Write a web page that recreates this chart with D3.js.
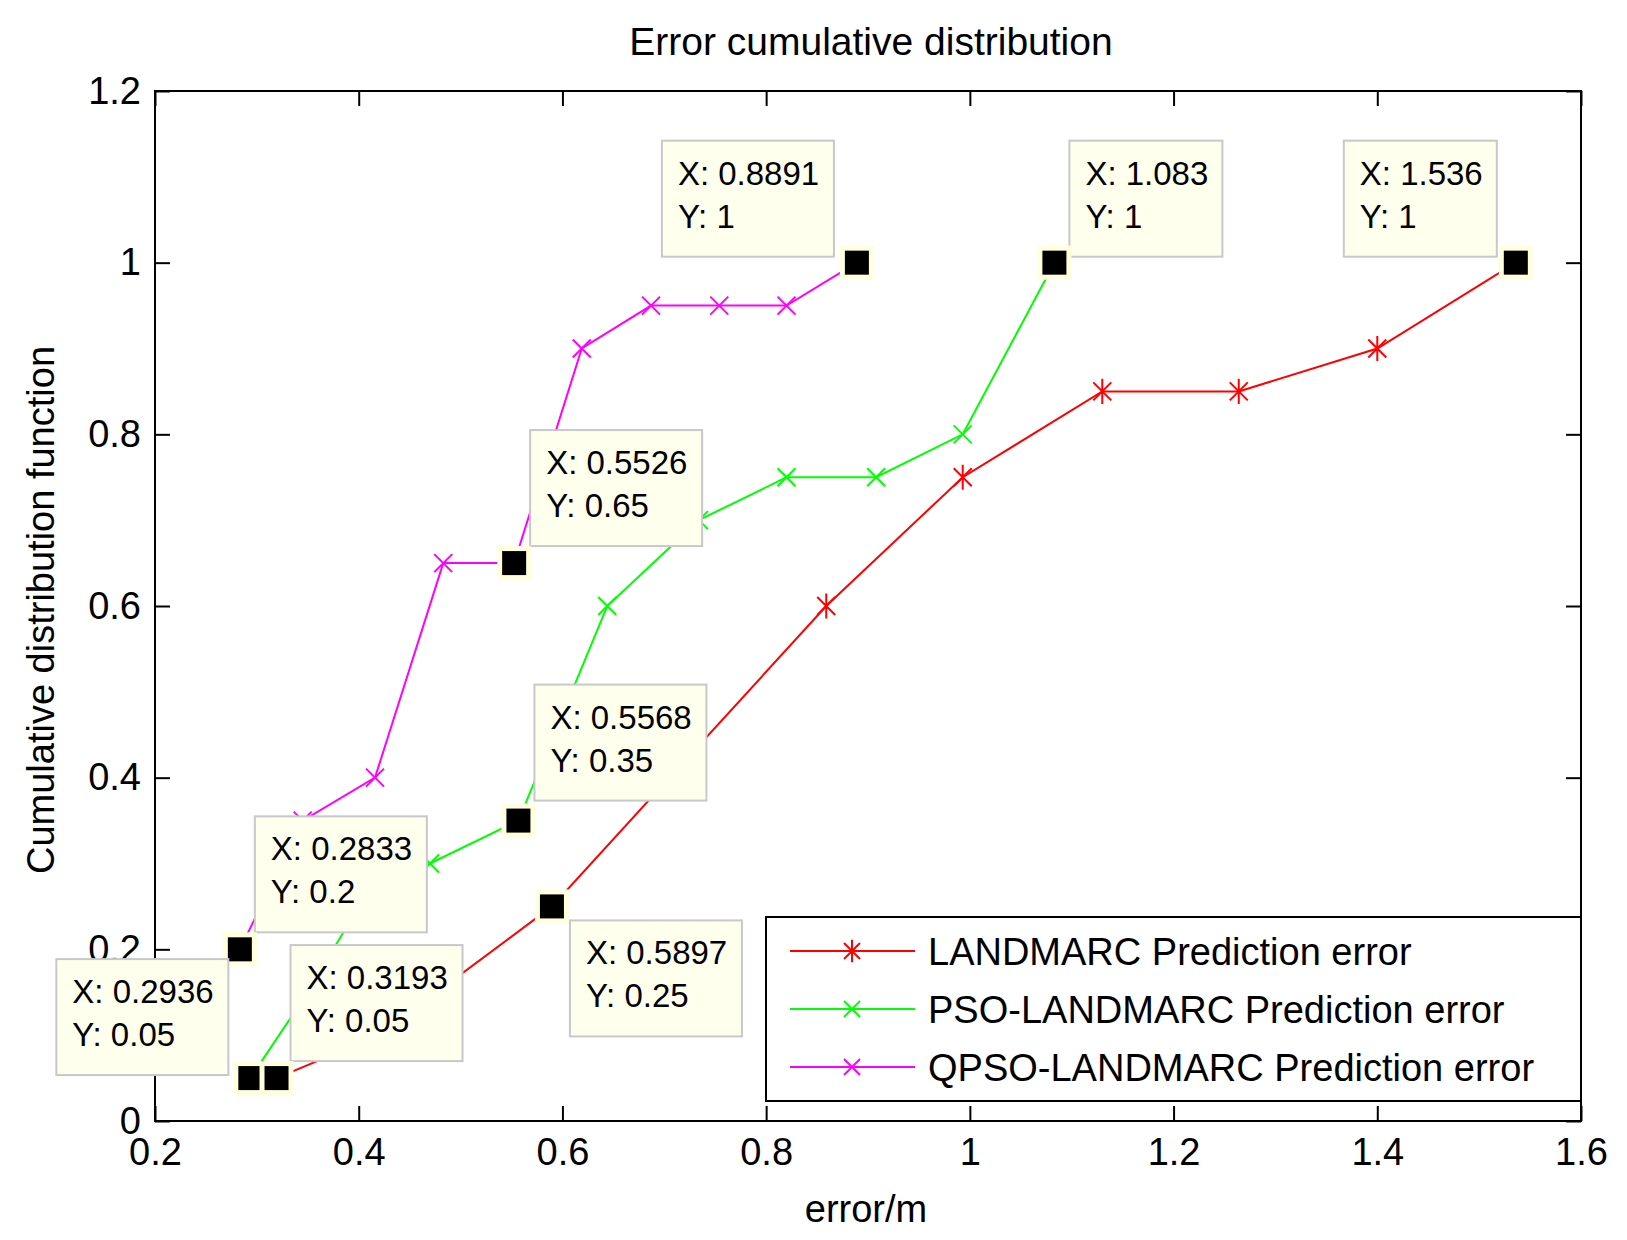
<!DOCTYPE html>
<html>
<head>
<meta charset="utf-8">
<script src="https://cdn.jsdelivr.net/npm/d3@7/dist/d3.min.js"></script>
<style>
  body { margin: 0; background: #fff; }
  text { font-family: "Liberation Sans", Arial, sans-serif; }
</style>
</head>
<body>
<script>
/******************************************************************************/
/* DATA                                                                       */
/******************************************************************************/
var landmarcX = [0.3193, 0.42, 0.5897, 0.859, 0.993, 1.130, 1.264, 1.400, 1.536];
var landmarcY = [0.05,   0.10, 0.25,   0.60,  0.75,  0.85,  0.85,  0.90,  1.00];
var psoX = [0.2936, 0.35, 0.40, 0.47, 0.5568, 0.644, 0.734, 0.820, 0.908, 0.993, 1.083];
var psoY = [0.05,   0.15, 0.25, 0.30, 0.35,   0.60,  0.70,  0.75,  0.75,  0.80,  1.00];
var qpsoX = [0.2833, 0.345, 0.416, 0.483, 0.5526, 0.619, 0.687, 0.754, 0.820, 0.8891];
var qpsoY = [0.20,   0.35,  0.40,  0.65,  0.65,   0.90,  0.95,  0.95,  0.95,  1.00];
var seriesNames = ["LANDMARC Prediction error", "PSO-LANDMARC Prediction error", "QPSO-LANDMARC Prediction error"];
var xTicks = [0.2, 0.4, 0.6, 0.8, 1, 1.2, 1.4, 1.6];
var yTicks = [0, 0.2, 0.4, 0.6, 0.8, 1, 1.2];
// data tips: [x, y, box offset dx, dy from the point]
var tips = [
  [0.8891, 1, -195, -122],
  [1.083, 1, 15, -122],
  [1.536, 1, -172, -122],
  [0.5526, 0.65, 16, -133],
  [0.5568, 0.35, 16, -136],
  [0.2833, 0.2, 15, -133],
  [0.2936, 0.05, -194, -119],
  [0.3193, 0.05, 14, -133],
  [0.5897, 0.25, 18, 14]
];

/******************************************************************************/
/* GLOBAL                                                                     */
/******************************************************************************/
var width = 1627, height = 1240;
var m = {left: 155, right: 1581, top: 91, bottom: 1121};
var x = d3.scaleLinear().domain([0.2, 1.6]).range([m.left, m.right]);
var y = d3.scaleLinear().domain([0, 1.2]).range([m.bottom, m.top]);
var colors = ["#ff0000", "#00ff00", "#ff00ff"];
var series = [
  d3.zip(landmarcX, landmarcY),
  d3.zip(psoX, psoY),
  d3.zip(qpsoX, qpsoY)
];

var svg = d3.select("body").append("svg")
  .attr("width", width).attr("height", height);

/******************************************************************************/
/* AXES                                                                       */
/******************************************************************************/
svg.append("rect").attr("x", m.left).attr("y", m.top)
  .attr("width", m.right - m.left).attr("height", m.bottom - m.top)
  .attr("fill", "none").attr("stroke", "#000").attr("stroke-width", 2);

var fmt = function(d) { return d3.format("")(+d.toFixed(1)); };
var axisStyle = function(g) {
  g.select(".domain").remove();
  g.selectAll("line").attr("stroke", "#000").attr("stroke-width", 2);
  g.selectAll("text").attr("font-size", 38).attr("fill", "#000");
};
svg.append("g").attr("transform", "translate(0," + m.bottom + ")")
  .call(d3.axisBottom(x).tickValues(xTicks).tickSize(-15).tickPadding(17).tickFormat(fmt))
  .call(axisStyle);
svg.append("g").attr("transform", "translate(0," + m.top + ")")
  .call(d3.axisTop(x).tickValues(xTicks).tickSize(-15).tickFormat(""))
  .call(axisStyle);
svg.append("g").attr("transform", "translate(" + m.left + ",0)")
  .call(d3.axisLeft(y).tickValues(yTicks).tickSize(-15).tickPadding(14).tickFormat(fmt))
  .call(axisStyle);
svg.append("g").attr("transform", "translate(" + m.right + ",0)")
  .call(d3.axisRight(y).tickValues(yTicks).tickSize(-15).tickFormat(""))
  .call(axisStyle);

svg.append("text").attr("x", 871).attr("y", 55).attr("text-anchor", "middle")
  .attr("font-size", 39).text("Error cumulative distribution");
svg.append("text").attr("x", 866).attr("y", 1222).attr("text-anchor", "middle")
  .attr("font-size", 38).text("error/m");
svg.append("text").attr("transform", "translate(54,610) rotate(-90)")
  .attr("text-anchor", "middle").attr("font-size", 38).text("Cumulative distribution function");

/******************************************************************************/
/* SERIES                                                                     */
/******************************************************************************/
var line = d3.line().x(function(d) { return x(d[0]); }).y(function(d) { return y(d[1]); });
var marker = function(g, i, s) {
  var p = "M" + (-s) + "," + (-s) + "L" + s + "," + s + "M" + (-s) + "," + s + "L" + s + "," + (-s);
  if (i === 0) p += "M0," + (-s * 1.4) + "L0," + (s * 1.4);
  g.append("path").attr("d", p).attr("stroke", colors[i]).attr("stroke-width", 2).attr("fill", "none");
};
series.forEach(function(data, i) {
  svg.append("path").datum(data).attr("d", line)
    .attr("fill", "none").attr("stroke", colors[i]).attr("stroke-width", 2);
  data.forEach(function(d) {
    marker(svg.append("g").attr("transform", "translate(" + x(d[0]) + "," + y(d[1]) + ")"), i, 9);
  });
});

/******************************************************************************/
/* DATA TIPS                                                                  */
/******************************************************************************/
tips.forEach(function(t) {
  var px = x(t[0]), py = y(t[1]);
  var bx = px + t[2], by = py + t[3];
  var g = svg.append("g");
  g.append("rect").attr("x", bx).attr("y", by).attr("width", t[0] >= 1 ? 153 : 172).attr("height", 116)
    .attr("fill", "#ffffee").attr("stroke", "#c8c8c8").attr("stroke-width", 2);
  g.append("text").attr("x", bx + 16).attr("y", by + 44).attr("font-size", 33)
    .text("X: " + t[0]);
  g.append("text").attr("x", bx + 16).attr("y", by + 87).attr("font-size", 33)
    .text("Y: " + t[1]);
  g.append("rect").attr("x", px - 17).attr("y", py - 17).attr("width", 34).attr("height", 34)
    .attr("fill", "#ffffdd");
  g.append("rect").attr("x", px - 12).attr("y", py - 12).attr("width", 24).attr("height", 24)
    .attr("fill", "#000");
});

/******************************************************************************/
/* LEGEND                                                                     */
/******************************************************************************/
var leg = svg.append("g");
leg.append("rect").attr("x", 766).attr("y", 917).attr("width", 815).attr("height", 184)
  .attr("fill", "#fff").attr("stroke", "#000").attr("stroke-width", 2);
seriesNames.forEach(function(name, i) {
  var ly = 951 + i * 58;
  leg.append("line").attr("x1", 790).attr("x2", 915).attr("y1", ly).attr("y2", ly)
    .attr("stroke", colors[i]).attr("stroke-width", 2);
  marker(leg.append("g").attr("transform", "translate(852," + ly + ")"), i, 8);
  leg.append("text").attr("x", 928).attr("y", ly + 14).attr("font-size", 38).text(name);
});
</script>
</body>
</html>
